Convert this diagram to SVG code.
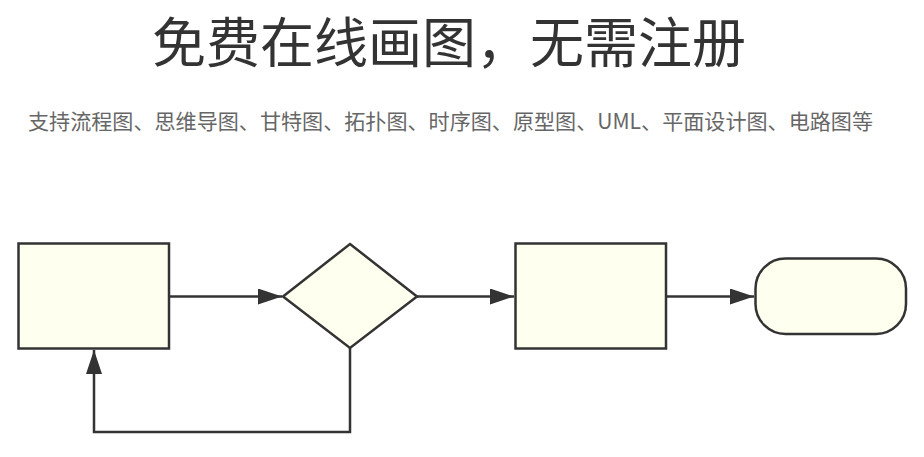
<svg xmlns="http://www.w3.org/2000/svg" width="924" height="457" viewBox="0 0 924 457">
<style>
.node{fill:#fffff0;stroke:#333;stroke-width:2.5}
.edge{fill:none;stroke:#333;stroke-width:2.5}
.title{font-family:"Noto Sans CJK SC","Liberation Sans",sans-serif;fill:#333;font-size:54px}
.sub{font-family:"Noto Sans CJK SC","Liberation Sans",sans-serif;fill:#666;font-size:21px}
</style>
<defs>
<marker id="arrow" markerWidth="24" markerHeight="16" refX="24" refY="8" orient="auto" markerUnits="userSpaceOnUse">
<path d="M0,0 L24,8 L0,16 Z" fill="#333"/>
</marker>
</defs>
<text class="title" x="449" y="63" text-anchor="middle">免费在线画图，无需注册</text>
<text class="sub" x="450.5" y="129" text-anchor="middle" textLength="845" lengthAdjust="spacingAndGlyphs">支持流程图、思维导图、甘特图、拓扑图、时序图、原型图、UML、平面设计图、电路图等</text>
<g id="connectors">
<path class="edge" d="M169,296.5 L282,296.5" marker-end="url(#arrow)"/>
<path class="edge" d="M417,296.5 L514,296.5" marker-end="url(#arrow)"/>
<path class="edge" d="M666,296.5 L754,296.5" marker-end="url(#arrow)"/>
<path class="edge" d="M350,348 L350,432 L94,432 L94,350" marker-end="url(#arrow)"/>
</g>
<g id="node-process1"><rect class="node" x="18.5" y="243.5" width="150.5" height="105"/></g>
<g id="node-decision"><polygon class="node" points="350,244 417,296.5 350,348 283,296.5"/></g>
<g id="node-process2"><rect class="node" x="515.5" y="243.5" width="150.5" height="105"/></g>
<g id="node-terminal"><rect class="node" x="755.5" y="258.5" width="150.5" height="75.5" rx="30" ry="30"/></g>
</svg>
